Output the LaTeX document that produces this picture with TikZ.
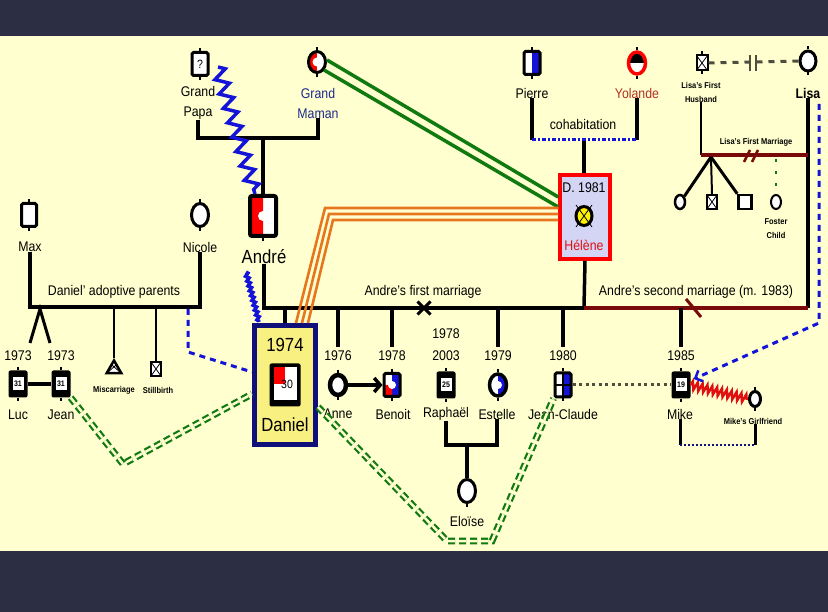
\documentclass[tikz,border=0pt]{standalone}
\usepackage{fontspec}
\setmainfont[FakeStretch=0.88]{Liberation Sans}
\usetikzlibrary{shapes.geometric,shapes.misc,decorations.pathmorphing,arrows.meta,calc}
\definecolor{bgdark}{HTML}{2C2E43}
\definecolor{cream}{HTML}{FFFFD0}
\definecolor{dkred}{HTML}{7A0A0A}
\definecolor{navy}{HTML}{10107A}
\definecolor{danyel}{HTML}{F8F080}
\definecolor{lav}{HTML}{D4D4F4}
\definecolor{org}{HTML}{E8761E}
\definecolor{grn}{HTML}{107A10}
\definecolor{blu}{HTML}{1414D8}
\definecolor{gdash}{HTML}{4E4E3E}
\definecolor{lblblue}{HTML}{1C2A8C}
\definecolor{yolred}{HTML}{B03020}
\definecolor{mred}{HTML}{E01010}
\newcommand{\setfs}[1]{\fontsize{#1}{#1}\selectfont}
\tikzset{
  rel/.style={line width=3.5pt},
  lbl/.style={font=\setfs{14}, inner sep=0pt},
  lbltwo/.style={font=\fontsize{14}{20}\selectfont, inner sep=0pt, align=center},
  tinylbl/.style={font=\bfseries\fontsize{8.5}{14}\selectfont, inner sep=0pt, align=center},
  male/.style={rectangle, draw=black, fill=white, line width=3pt, rounded corners=1.5pt, inner sep=0pt, minimum width=15pt, minimum height=22pt},
  female/.style={ellipse, draw=black, fill=white, line width=3pt, inner sep=0pt, minimum width=17pt, minimum height=22pt},
  thickbox/.style={rectangle, fill=black, rounded corners=2pt, minimum width=19pt, minimum height=27pt, inner sep=0pt},
  numbox/.style={rectangle, fill=white, inner sep=0pt, minimum width=11pt, minimum height=13pt, font=\bfseries\setfs{8}},
  xmark/.style={path picture={\draw[line width=0.8pt] (path picture bounding box.north west) -- (path picture bounding box.south east) (path picture bounding box.north east) -- (path picture bounding box.south west);}},
  bluedash/.style={blu, line width=3pt, dash pattern=on 6pt off 5pt},
  gdd/.style={draw=grn, double=cream, double distance=2.5pt, line width=2.2pt, dash pattern=on 7pt off 4pt},
  orl/.style={org, line width=2.6pt},
  grl/.style={grn, line width=3.5pt},
}
\begin{document}
\begin{tikzpicture}[x=1pt,y=-1pt]
\useasboundingbox (0,0) rectangle (828,612);
\fill[bgdark] (0,0) rectangle (828,612);
\fill[cream] (0,36) rectangle (828,551);

% ---------- grandparents
\node[male, minimum width=16pt, minimum height=23pt, font=\setfs{12}] (papa) at (200,64) {?};
\node[female, minimum width=17pt, minimum height=21pt,
  path picture={\fill[red] (path picture bounding box.south west) rectangle (path picture bounding box.north);
                \fill (path picture bounding box.center) circle (4.5pt);}] (maman) at (317,62) {};
\node[lbltwo] (papal) at (198,103) {Grand\\Papa};
\node[lbltwo, text=lblblue] (mamanl) at (318,103) {Grand\\Maman};
\coordinate (gpbar) at (263,138);
\draw[rel] (papal.south) |- (gpbar) -| (mamanl.south);
\draw[rel] (gpbar) -- (263,194);

% ---------- Andre
\node[male, minimum width=26pt, minimum height=40pt, line width=4pt, rounded corners=2pt,
  path picture={\fill[red] (path picture bounding box.south west) rectangle (path picture bounding box.north);
                \fill (path picture bounding box.center) circle (5pt);}] (andre) at (263,216) {};
\node[font=\setfs{19}, inner sep=0pt] (andrel) at (264,257) {André};
\coordinate (zigA) at (218,67);
\coordinate (zigB) at (255,194);
\draw[blu, line width=3.5pt, decorate, decoration={zigzag, amplitude=6.5pt, segment length=15pt}] (zigA) -- (zigB);
\coordinate (coilA) at (246,272);
\coordinate (coilB) at (259,322);
\draw[blu, line width=3.5pt, decorate, decoration={snake, amplitude=1.5pt, segment length=5pt}] (coilA) -- (coilB);

% ---------- Pierre / Yolande / Helene
\node[male, minimum width=16pt, minimum height=23pt,
  path picture={\fill[blu] (path picture bounding box.south) rectangle (path picture bounding box.north east);}] (pierre) at (532,63) {};
\node[female, draw=red, line width=3.5pt, minimum width=17pt, minimum height=22pt,
  path picture={\fill[black] (path picture bounding box.west) rectangle (path picture bounding box.north east);}] (yolande) at (637,63) {};
\node[lbl] (pierrel) at (532,93) {Pierre};
\node[lbl, text=yolred] (yolandel) at (637,93) {Yolande};
\coordinate (cohab) at (584,140);
\draw[rel] (pierrel.south) -- (pierrel.south |- cohab);
\draw[rel] (yolandel.south) -- (yolandel.south |- cohab);
\draw[rel] (cohab) -- (584,175);
\draw[blu, line width=3pt, dash pattern=on 4pt off 2pt on 2pt off 2pt] (pierrel.south |- cohab) -- (yolandel.south |- cohab);
\node[lbl] at (583,124) {cohabitation};

\node[rectangle, draw=red, fill=lav, line width=3.5pt, minimum width=50pt, minimum height=84pt, inner sep=0pt] (helene) at (585,217) {};
\node[font=\setfs{14}, inner sep=0pt] at (584,188) {D. 1981};
\node[female, fill=yellow, minimum width=16pt, minimum height=19pt] (hsym) at (584,216) {};
\draw[line width=0.8pt] ($(hsym.center)+(-8,-11)$) -- ($(hsym.center)+(8,11)$) ($(hsym.center)+(8,-11)$) -- ($(hsym.center)+(-8,11)$);
\node[font=\setfs{14}, inner sep=0pt, text=mred] at (584,245) {Hélène};

% green double line Maman -> Helene
\draw[grl] ($(maman.east)+(0,-2)$) -- ($(helene.west)+(0,-20)$);
\draw[grl] ($(maman.east)+(-3,8)$) -- ($(helene.west)+(0,-10)$);

% ---------- marriages of Andre
\coordinate (hjoin) at (584,308);
\coordinate (lisabar) at (808,308);
\draw[rel] (andrel.south) |- (hjoin);
\draw[rel] (helene.south) -- (hjoin);
\node[lbl] at (423,292) {Andre's first marriage};
\node[cross out, draw, line width=3pt, minimum size=10pt, inner sep=0pt] (sepx) at (424,308) {};

% ---------- Lisa
\node[female, minimum width=16pt, minimum height=20pt] (lisa) at (808,61) {};
\node[lbl, font=\bfseries\setfs{14}] (lisal) at (808,93) {Lisa};
\draw[rel] (lisal.south) -- (lisabar);
\draw[rel, dkred] (hjoin) -- (lisabar);
\node[lbl] at (696,292) {Andre's second marriage (m. 1983)};
\coordinate (slash) at (693,308);
\draw[dkred, line width=3pt] ($(slash)+(-7,-9)$) -- ($(slash)+(8,9)$);

\node[male, line width=2pt, minimum width=11pt, minimum height=15pt, rounded corners=0pt, xmark] (husb) at (702,63) {};
\node[tinylbl] (husbl) at (701,92) {Lisa's First\\Husband};
\draw[gdash, line width=3pt, dash pattern=on 6pt off 6pt] (husb.east) -- (lisa.west);
\coordinate (divbar) at (753,63);
\draw[gdash, line width=2pt] ($(divbar)+(-3,-8)$) -- ($(divbar)+(-3,8)$) ($(divbar)+(3,-8)$) -- ($(divbar)+(3,8)$);
\coordinate (lfm) at (808,155);
\draw[line width=2.5pt] (husbl.south) -- (husbl.south |- lfm);
\draw[dkred, line width=3.5pt] (husbl.south |- lfm) -- (lfm);
\node[tinylbl] at (756,142) {Lisa's First Marriage};
\coordinate (ds) at (752,156);
\draw[dkred, line width=2.5pt] ($(ds)+(-8,6)$) -- ($(ds)+(-2,-6)$) ($(ds)+(0,6)$) -- ($(ds)+(6,-6)$);
\coordinate (fan) at (711,157);
\node[female, line width=2.5pt, minimum width=10pt, minimum height=14pt] (lc1) at (680,202) {};
\node[male, line width=1.5pt, rounded corners=0pt, minimum width=10pt, minimum height=14pt, xmark] (lc2) at (712,202) {};
\node[male, line width=2.5pt, rounded corners=0pt, minimum width=13pt, minimum height=14pt] (lc3) at (745,202) {};
\node[female, line width=2pt, minimum width=10pt, minimum height=14pt] (fost) at (776,202) {};
\draw[line width=3pt] (fan) -- (lc1.north east);
\draw[line width=2pt] (fan) -- (lc2.north);
\draw[line width=3pt] (fan) -- (lc3.north west);
\draw[grn, line width=2.5pt, dash pattern=on 3pt off 9pt] ($(fost.north |- lfm)+(0,4)$) -- (fost.north);
\node[tinylbl] at (776,229) {Foster\\Child};

% ---------- adoptive parents
\node[male, minimum width=15pt, minimum height=23pt] (max) at (29,215) {};
\node[female, minimum width=17pt, minimum height=23pt] (nicole) at (200,215) {};
\node[lbl] (maxl) at (30,247) {Max};
\node[lbl] (nicolel) at (200,247) {Nicole};
\coordinate (adbar) at (114,307);
\draw[rel] (maxl.south) |- (adbar) -| (nicolel.south);
\node[lbl] at (114,292) {Daniel' adoptive parents};

\coordinate (twinapex) at (40,309);
\coordinate (twl) at (30,343);
\coordinate (twr) at (50,343);
\draw[line width=3pt] (twl) -- (twinapex) -- (twr);
\node[lbl] at (18,356) {1973};
\node[lbl] at (61,356) {1973};
\node[thickbox] (luc) at (18,384) {};
\node[numbox] at (luc) {31};
\node[thickbox] (jean) at (61,384) {};
\node[numbox] at (jean) {31};
\draw[line width=4pt] (luc.east) -- (jean.west);
\node[lbl] at (18,415) {Luc};
\node[lbl] at (61,415) {Jean};

\node[regular polygon, regular polygon sides=3, draw, fill=white, line width=2.5pt, minimum size=17pt, inner sep=0pt, xmark] (mis) at (114,369) {};
\draw[line width=2pt] (mis.north |- adbar) -- (mis.north);
\node[tinylbl] at (114,390) {Miscarriage};
\node[rectangle, draw, fill=white, line width=1.5pt, minimum width=10pt, minimum height=14pt, inner sep=0pt, xmark] (still) at (156,369) {};
\draw[line width=2pt] (still.north |- adbar) -- (still.north);
\node[tinylbl] at (158,390) {Stillbirth};

% ---------- Daniel
\node[rectangle, draw=navy, fill=danyel, line width=5pt, minimum width=61pt, minimum height=119pt, inner sep=0pt] (daniel) at (285,385) {};
\node[font=\setfs{19}, inner sep=0pt] at (285,345) {1974};
\node[thickbox, minimum width=31pt, minimum height=43pt] (dansym) at (285,385) {};
\node[numbox, minimum width=23pt, minimum height=33pt, font=\setfs{12},
  path picture={\fill[red] (path picture bounding box.north west) rectangle (path picture bounding box.center);}] at (285,384) {\hspace*{4pt}30};
\node[font=\setfs{19}, inner sep=0pt] at (285,425) {Daniel};
\draw[rel] (daniel.north) -- (daniel.north |- hjoin);

\coordinate (bd1) at (188,309);
\coordinate (bd2) at (188,352);
\draw[bluedash] (bd1) -- (bd2) -- ($(daniel.west)+(0,-13)$);

% orange triple line Helene -> Daniel
\coordinate (oc1) at (325,208);
\coordinate (oc2) at (329,214);
\coordinate (oc3) at (333,220);
\draw[orl] ($(helene.west)+(0,-9)$) -- (oc1) -- ($(daniel.north)+(11,0)$);
\draw[orl] ($(helene.west)+(0,-3)$) -- (oc2) -- ($(daniel.north)+(17,0)$);
\draw[orl] ($(helene.west)+(0,3)$) -- (oc3) -- ($(daniel.north)+(23,0)$);

% ---------- children of first marriage
\node[lbl] (anney) at (338,356) {1976};
\node[lbl] (beny) at (392,356) {1978};
\node[lbl] at (446,334) {1978};
\node[lbl] at (446,356) {2003};
\node[lbl] (esty) at (498,356) {1979};
\node[lbl] (jcy) at (563,356) {1980};
\node[lbl] (mikey) at (681,356) {1985};
\foreach \n in {anney,beny,esty,jcy,mikey}
  \draw[rel, shorten >=4pt] (\n.north |- hjoin) -- (\n.north);

\node[female, line width=4.5pt, minimum width=16pt, minimum height=20pt,
  path picture={\fill (path picture bounding box.center) circle (4.5pt);}] (anne) at (338,385) {};
\node[male, minimum width=16pt, minimum height=23pt,
  path picture={\fill[blu] (path picture bounding box.south) rectangle (path picture bounding box.north east);
                \fill[red] (path picture bounding box.south west) rectangle (path picture bounding box.center);
                \fill (path picture bounding box.center) circle (4pt);}] (benoit) at (392,385) {};
\draw[line width=3.5pt, -{Straight Barb[length=6pt,width=14pt]}] (anne.east) -- (benoit.west);
\node[thickbox] (raph) at (446,385) {};
\node[numbox] at (raph) {25};
\node[female, line width=3.5pt, minimum width=17pt, minimum height=22pt,
  path picture={\fill[blu] (path picture bounding box.south) rectangle (path picture bounding box.north east);
                \fill (path picture bounding box.center) circle (4pt);}] (estelle) at (498,385) {};
\node[male, minimum width=16pt, minimum height=24pt,
  path picture={\fill[blu] (path picture bounding box.south) rectangle (path picture bounding box.north east);
                \draw[line width=2pt] (path picture bounding box.north) -- (path picture bounding box.south) (path picture bounding box.west) -- (path picture bounding box.east);}] (jc) at (563,385) {};
\node[thickbox] (mike) at (681,385) {};
\node[numbox] at (mike) {19};

\node[lbl] at (338,414) {Anne};
\node[lbl] at (393,414) {Benoit};
\node[lbl] (raphl) at (446,414) {Raphaël};
\node[lbl] (estl) at (497,414) {Estelle};
\node[lbl] at (563,414) {Jean-Claude};
\node[lbl] (mikel) at (680,414) {Mike};

\coordinate (rebar) at (467,445);
\draw[rel] (raphl.south) |- (rebar) -| (estl.south);
\node[female, minimum width=17pt, minimum height=23pt] (eloise) at (467,491) {};
\draw[rel] (rebar) -- (eloise.north);
\node[lbl] at (467,521) {Eloïse};

\draw[gdash, line width=3pt, dash pattern=on 3pt off 3.5pt] (jc.east) -- (mike.west);

% Mike's girlfriend
\node[female, line width=3pt, minimum width=11pt, minimum height=15pt] (gf) at (755,399) {};
\node[tinylbl] (gfl) at (753,421) {Mike's Girlfriend};
\draw[mred, line width=2.5pt, decorate, decoration={zigzag, amplitude=4pt, segment length=5pt}] (mike.east) -- (gf.west);
\coordinate (mg1) at (680,445);
\coordinate (mg2) at (755,445);
\draw[line width=3pt] (mikel.south) -- (mg1);
\draw[line width=3pt] (gfl.south -| gf) -- (mg2);
\draw[navy, line width=2.5pt, dash pattern=on 2pt off 2pt] (mg1) -- (mg2);

% Lisa dashed to Mike
\coordinate (ld1) at (819,104);
\coordinate (ld2) at (819,323);
\draw[bluedash, -{Straight Barb[length=6pt,width=12pt,line width=2.5pt]}] (ld1) -- (ld2) -- ($(mike.east)+(3,-6)$);

% green double dashed lines
\coordinate (gv1) at (123,464);
\draw[gdd] (jean.south east) -- (gv1) -- ($(daniel.west)+(0,9)$);
\coordinate (gv2) at (447,541);
\coordinate (gv3) at (492,541);
\draw[gdd] ($(daniel.east)+(0,22)$) -- (gv2) -- (gv3) -- (jc.south west);

% stubs on symbols
\foreach \n in {papa,maman,pierre,yolande,lisa,max,nicole,anne,benoit,estelle,jc,eloise,husb,gf,luc,jean,raph,mike,andre}
  \draw[line width=2.5pt] (\n.north) -- ++(0,3pt) (\n.south) -- ++(0,-3pt);
\end{tikzpicture}
\end{document}
